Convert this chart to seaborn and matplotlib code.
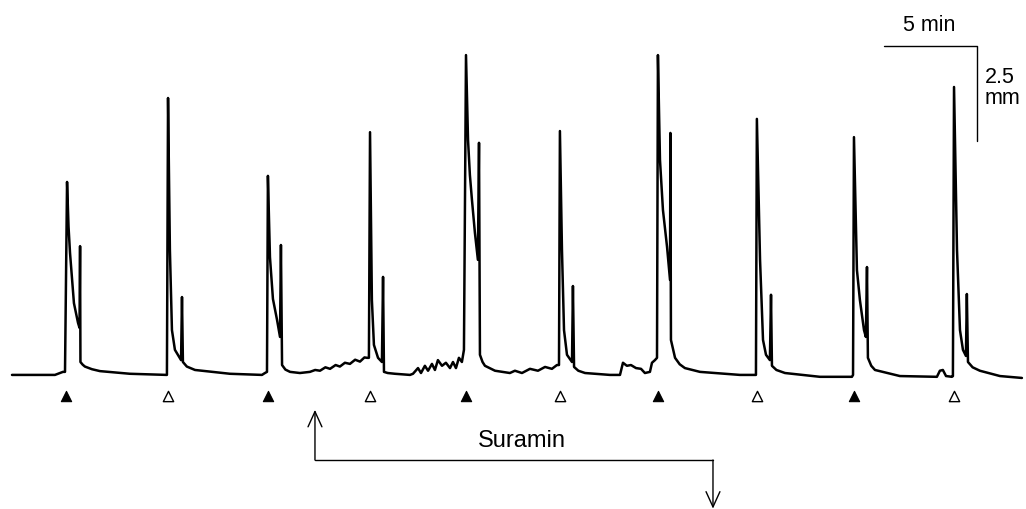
import matplotlib
matplotlib.use("Agg")
import matplotlib.pyplot as plt
import seaborn as sns

# isometric tension trace, knots
# time in minutes, tension in mm of pen deflection above baseline
trace_t = [
    0.00, 2.31, 2.74,
    # 1st contraction (filled)
    2.85, 2.96, 3.04, 3.12, 3.33, 3.55, 3.63, 3.66, 3.68, 3.80, 3.92, 4.30, 4.73, 6.34, 8.23,
    # 2nd contraction (open)
    8.33, 8.39, 8.49, 8.60, 8.76, 9.09, 9.14, 9.19, 9.40, 9.84, 11.72, 13.44,
    # 3rd contraction (filled)
    13.60, 13.71, 13.76, 13.87, 14.03, 14.25, 14.41, 14.46, 14.52, 14.70, 14.95, 15.48,
    16.02, 16.30, 16.56, 16.85, 17.10, 17.40, 17.63, 17.90, 18.17, 18.45, 18.71, 18.95, 19.09,
    # 4th contraction (open)
    19.19, 19.25, 19.35, 19.46, 19.68, 19.89, 19.95, 20.00, 20.20, 20.59, 21.40,
    21.56, 21.83, 21.99, 22.20, 22.37, 22.58, 22.74, 22.90, 23.12, 23.33, 23.55,
    23.71, 23.87, 24.03, 24.19, 24.30,
    # 5th contraction (filled)
    24.41, 24.52, 24.62, 24.73, 24.89, 25.05, 25.11, 25.16, 25.30, 25.43, 25.97, 26.77,
    27.04, 27.42, 27.85, 28.28, 28.66, 29.03, 29.30,
    # 6th contraction (open)
    29.41, 29.46, 29.57, 29.68, 29.84, 30.11, 30.16, 30.22, 30.45, 30.81, 32.15, 32.69,
    32.85, 33.06, 33.28, 33.55, 33.82, 34.03, 34.30, 34.41, 34.57,
    # 7th contraction (filled)
    34.68, 34.73, 34.84, 35.00, 35.22, 35.38, 35.40, 35.43, 35.65, 35.90, 36.18, 36.99, 39.14, 39.95,
    # 8th contraction (open)
    40.00, 40.05, 40.22, 40.38, 40.54, 40.75, 40.81, 40.86, 41.10, 41.56, 43.44, 45.16,
    # 9th contraction (filled)
    45.22, 45.27, 45.43, 45.59, 45.81, 45.91, 45.97, 46.02, 46.20, 46.40, 47.74, 49.73,
    49.89, 50.05, 50.22, 50.54,
    # 10th contraction (open)
    50.59, 50.65, 50.81, 50.97, 51.13, 51.29, 51.34, 51.40, 51.65, 52.04, 53.12, 54.30,
]
trace_mm = [
    0.00, 0.00, 0.08,
    0.08, 5.08, 3.90, 3.21, 1.89, 1.37, 1.24, 3.39, 0.34, 0.27, 0.22, 0.15, 0.10, 0.03, 0.00,
    0.00, 7.29, 3.29, 1.18, 0.66, 0.39, 2.05, 0.34, 0.22, 0.13, 0.03, 0.00,
    0.05, 0.08, 5.24, 3.10, 2.00, 1.45, 1.00, 3.42, 0.26, 0.14, 0.08, 0.05,
    0.08, 0.13, 0.11, 0.20, 0.16, 0.26, 0.22, 0.32, 0.29, 0.40, 0.35, 0.46, 0.45,
    0.45, 6.39, 1.97, 0.79, 0.45, 0.34, 2.58, 0.08, 0.05, 0.03, 0.00,
    0.03, 0.18, 0.05, 0.24, 0.11, 0.29, 0.13, 0.39, 0.24, 0.32, 0.18,
    0.34, 0.18, 0.45, 0.34, 0.66,
    8.42, 6.18, 5.26, 4.61, 3.74, 3.03, 6.11, 0.53, 0.34, 0.24, 0.11, 0.05,
    0.11, 0.05, 0.16, 0.11, 0.21, 0.16, 0.26,
    0.26, 6.42, 3.29, 1.18, 0.53, 0.34, 2.34, 0.21, 0.11, 0.05, 0.00, 0.00,
    0.32, 0.24, 0.26, 0.18, 0.16, 0.05, 0.08, 0.32, 0.39,
    0.45, 8.42, 5.66, 4.34, 3.37, 2.50, 6.37, 0.92, 0.45, 0.28, 0.18, 0.08, 0.00, 0.00,
    0.00, 6.74, 3.03, 0.92, 0.53, 0.39, 2.11, 0.24, 0.13, 0.05, -0.05, -0.05,
    0.00, 6.26, 2.76, 1.97, 1.18, 1.00, 2.84, 0.45, 0.24, 0.13, -0.03, -0.05,
    0.11, 0.13, -0.03, -0.05,
    -0.03, 7.58, 3.29, 1.18, 0.66, 0.50, 2.13, 0.34, 0.20, 0.11, -0.03, -0.08,
]

# drug additions marked under the trace
filled_marks = [2.92, 13.74, 24.42, 34.73, 45.27]
open_marks = [8.39, 19.26, 29.46, 40.06, 50.64]
mark_level = -0.55

# suramin exposure period
suramin_start = 16.29
suramin_end = 37.69

# calibration bars
bar_time = 5.0
bar_tension = 2.5
bar_t0 = 46.88
bar_top = 8.66

sns.set_style("white")
plt.rcParams['font.family'] = ['Liberation Sans', 'DejaVu Sans']
plt.rcParams['text.color'] = 'black'

fig = plt.figure(figsize=(10.26, 5.09), dpi=100)
ax = fig.add_axes([0, 0, 1, 1])

sns.lineplot(x=trace_t, y=trace_mm, sort=False, estimator=None,
             color='black', linewidth=1.8, ax=ax)

sns.scatterplot(x=filled_marks, y=[mark_level] * len(filled_marks), marker='^',
                s=55, color='black', edgecolor='black', linewidth=0.8, ax=ax)
sns.scatterplot(x=open_marks, y=[mark_level] * len(open_marks), marker='^',
                s=55, facecolor='white', edgecolor='black', linewidth=1.0, ax=ax)

# suramin bracket with arrows
arrow = dict(arrowstyle='->,head_length=1.1,head_width=0.5', color='black',
             lw=1.0, shrinkA=0, shrinkB=0)
line_y = -2.24
ax.plot([suramin_start, suramin_end], [line_y, line_y], color='black', lw=1.0)
ax.annotate('', xy=(suramin_start, -0.92), xytext=(suramin_start, line_y),
            arrowprops=arrow)
ax.annotate('', xy=(suramin_end, -3.52), xytext=(suramin_end, line_y),
            arrowprops=arrow)
ax.text(27.39, -1.89, 'Suramin', ha='center', va='baseline', fontsize=17,
        color='black')

# scale bars
ax.plot([bar_t0, bar_t0 + bar_time, bar_t0 + bar_time],
        [bar_top, bar_top, bar_top - bar_tension], color='black', lw=1.0)
ax.text(bar_t0 + bar_time / 2 - 0.05, 9.05, '5 min', ha='center', va='baseline',
        fontsize=15.5, color='black')
ax.text(bar_t0 + bar_time + 0.43, 8.1, '2.5\nmm', ha='left', va='top',
        fontsize=15.5, linespacing=1.0, color='black')

ax.set_xlim(-0.645, 54.52)
ax.set_ylim(-3.53, 9.87)
ax.axis('off')

fig.savefig('out.png', dpi=100, facecolor='white')
